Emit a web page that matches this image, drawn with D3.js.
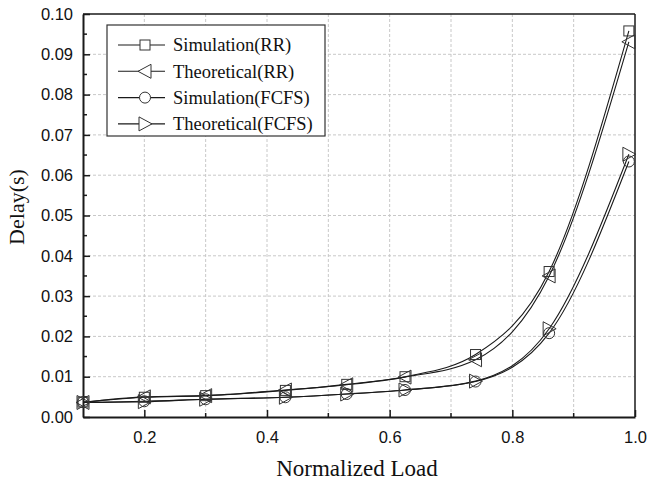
<!DOCTYPE html>
<html>
<head>
<meta charset="utf-8">
<script src="https://cdn.jsdelivr.net/npm/d3@7"></script>
<style>
  body { margin: 0; background: #fff; }
  svg { display: block; }
</style>
</head>
<body>
<svg id="chart" width="647" height="481"></svg>
<script>
'use strict';

// Data
const loads = [0.1, 0.2, 0.3, 0.43, 0.53, 0.625, 0.74, 0.86, 0.99];
const simRR = [0.0037, 0.0049, 0.0053, 0.0066, 0.0081, 0.0100, 0.0155, 0.0361, 0.0958];
const theoRR = [0.0036, 0.0050, 0.0053, 0.0067, 0.0080, 0.0099, 0.0142, 0.0350, 0.0931];
const simFCFS = [0.0037, 0.0039, 0.0044, 0.0049, 0.0057, 0.0067, 0.0088, 0.0208, 0.0634];
const theoFCFS = [0.0036, 0.0038, 0.0044, 0.0049, 0.0057, 0.0067, 0.0089, 0.0219, 0.0652];
const seriesNames = ['Simulation(RR)', 'Theoretical(RR)', 'Simulation(FCFS)', 'Theoretical(FCFS)'];
const seriesShapes = ['square', 'triLeft', 'circle', 'triRight'];
const xTickLabels = [0.2, 0.4, 0.6, 0.8, 1.0];
const yTickLabels = [0.00, 0.01, 0.02, 0.03, 0.04, 0.05, 0.06, 0.07, 0.08, 0.09, 0.10];

const series = [simRR, theoRR, simFCFS, theoFCFS].map((vals, k) => ({
    name: seriesNames[k],
    shape: seriesShapes[k],
    points: loads.map((x, i) => ({ x: x, y: vals[i] }))
}));

// Frame setup
const svg = d3.select('#chart');
const pLeft = 83, pRight = 635, pTop = 14, pBottom = 417;

const xMap = d3.scaleLinear().domain([0.1, 1.0]).range([pLeft, pRight]);
const yMap = d3.scaleLinear().domain([0, 0.1]).range([pBottom, pTop]);

const gridColor = '#c8c8c8';
const axisColor = '#1a1a1a';
const textColor = '#111';
const serif = '"Liberation Serif", "Times New Roman", serif';

// grid lines
const grid = svg.append('g');
grid.selectAll('line.vx')
    .data(d3.range(2, 10).map(v => v / 10))
    .enter().append('line')
    .attr('x1', d => xMap(d)).attr('x2', d => xMap(d))
    .attr('y1', pTop).attr('y2', pBottom)
    .attr('stroke', gridColor).attr('stroke-width', 1)
    .attr('stroke-dasharray', '3,2');
grid.selectAll('line.hy')
    .data(yTickLabels.slice(1, -1))
    .enter().append('line')
    .attr('y1', d => yMap(d)).attr('y2', d => yMap(d))
    .attr('x1', pLeft).attr('x2', pRight)
    .attr('stroke', gridColor).attr('stroke-width', 1)
    .attr('stroke-dasharray', '3,2');

// frame
svg.append('line').attr('x1', pLeft).attr('x2', pRight).attr('y1', pTop).attr('y2', pTop)
    .attr('stroke', axisColor).attr('stroke-width', 1.5);
svg.append('line').attr('x1', pRight).attr('x2', pRight).attr('y1', pTop).attr('y2', pBottom)
    .attr('stroke', axisColor).attr('stroke-width', 1.5);

// axes with inward ticks
const xAxis = d3.axisBottom(xMap)
    .tickValues(xTickLabels)
    .tickFormat(d3.format('.1f'))
    .tickSizeInner(-7).tickSizeOuter(0).tickPadding(14);
const gx = svg.append('g').attr('transform', `translate(0,${pBottom})`).call(xAxis);

const yAxis = d3.axisLeft(yMap)
    .tickValues(yTickLabels)
    .tickFormat(d3.format('.2f'))
    .tickSizeInner(-7).tickSizeOuter(0).tickPadding(10);
const gy = svg.append('g').attr('transform', `translate(${pLeft},0)`).call(yAxis);

[gx, gy].forEach(g => {
    g.select('.domain').attr('stroke', axisColor).attr('stroke-width', 2);
    g.selectAll('.tick line').attr('stroke', axisColor).attr('stroke-width', 1.5);
    g.selectAll('.tick text')
        .attr('fill', textColor)
        .style('font-family', '"Liberation Sans", Arial, sans-serif')
        .style('font-size', '16.5px');
});

// minor ticks
svg.append('g').selectAll('line')
    .data(d3.range(3, 10, 2).map(v => v / 10))
    .enter().append('line')
    .attr('x1', d => xMap(d)).attr('x2', d => xMap(d))
    .attr('y1', pBottom).attr('y2', pBottom - 4)
    .attr('stroke', axisColor).attr('stroke-width', 1.5);
svg.append('g').selectAll('line')
    .data(d3.range(0, 10).map(v => v / 100 + 0.005))
    .enter().append('line')
    .attr('y1', d => yMap(d)).attr('y2', d => yMap(d))
    .attr('x1', pLeft).attr('x2', pLeft + 4)
    .attr('stroke', axisColor).attr('stroke-width', 1.5);

// axis titles
svg.append('text')
    .attr('x', 357).attr('y', 476)
    .attr('text-anchor', 'middle')
    .style('font-family', serif)
    .style('font-size', '23px')
    .attr('fill', textColor)
    .text('Normalized Load');
svg.append('text')
    .attr('transform', 'translate(24,207) rotate(-90)')
    .attr('text-anchor', 'middle')
    .style('font-family', serif)
    .style('font-size', '22px')
    .attr('fill', textColor)
    .text('Delay(s)');

// markers
function drawMarker(sel, shape, cx, cy, fill) {
    let m;
    if (shape === 'square') {
        m = sel.append('rect').attr('x', cx - 5).attr('y', cy - 5).attr('width', 10).attr('height', 10);
    } else if (shape === 'circle') {
        m = sel.append('circle').attr('cx', cx).attr('cy', cy).attr('r', 5.5);
    } else if (shape === 'triLeft') {
        m = sel.append('path').attr('d', `M${cx - 7},${cy} L${cx + 6},${cy - 7} L${cx + 6},${cy + 7} Z`);
    } else {
        m = sel.append('path').attr('d', `M${cx + 7},${cy} L${cx - 6},${cy - 7} L${cx - 6},${cy + 7} Z`);
    }
    m.attr('fill', fill).attr('stroke', '#333').attr('stroke-width', 1);
}

const line = d3.line()
    .x(d => xMap(d.x))
    .y(d => yMap(d.y))
    .curve(d3.curveMonotoneX);

series.forEach(s => {
    svg.append('path')
        .attr('d', line(s.points))
        .attr('fill', 'none')
        .attr('stroke', '#1a1a1a')
        .attr('stroke-width', 1.1);
});
series.forEach(s => {
    const g = svg.append('g');
    s.points.forEach(p => drawMarker(g, s.shape, xMap(p.x), yMap(p.y), 'none'));
});

// legend
const lg = svg.append('g');
lg.append('rect')
    .attr('x', 107).attr('y', 25).attr('width', 218).attr('height', 111)
    .attr('fill', '#fff').attr('stroke', '#333').attr('stroke-width', 1.2);
series.forEach((s, i) => {
    const yy = 45 + i * 26.3;
    lg.append('line').attr('x1', 118).attr('x2', 165).attr('y1', yy).attr('y2', yy)
        .attr('stroke', '#1a1a1a').attr('stroke-width', 1.1);
    drawMarker(lg, s.shape, 145, yy, '#fff');
    lg.append('text')
        .attr('x', 173).attr('y', yy).attr('dy', '0.35em')
        .style('font-family', serif)
        .style('font-size', '18.5px')
        .attr('fill', textColor)
        .text(s.name);
});
</script>
</body>
</html>
